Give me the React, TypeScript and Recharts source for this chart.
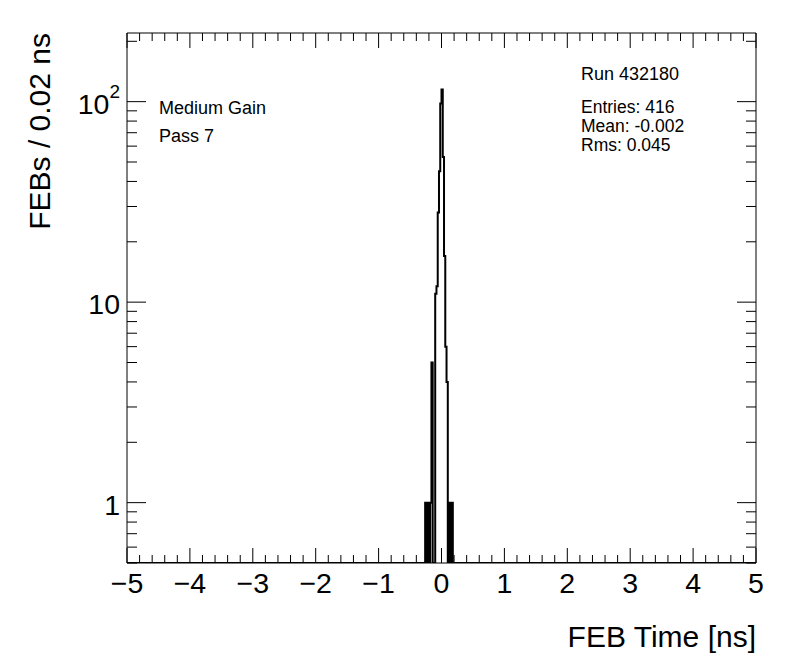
import React from "react";
import { LineChart, Line, XAxis, YAxis, Customized } from "recharts";

// FEB timing histogram, 0.02 ns bins (lower edges)
const BIN_EDGES = [
  -0.28, -0.26, -0.24, -0.22, -0.2, -0.18, -0.16, -0.14, -0.12, -0.1, -0.08, -0.06, -0.04,
  -0.02, 0.0, 0.02, 0.04, 0.06, 0.08, 0.1, 0.12, 0.14, 0.16, 0.18, 0.2,
];
const COUNTS = [0, 1, 0, 1, 0, 1, 5, 0, 0, 11, 12, 28, 45, 98, 115, 53, 17, 6, 4, 0, 1, 0, 1, 0, 0];
const BIN_WIDTH = 0.02;

const X_MAJOR = [-5, -4, -3, -2, -1, 0, 1, 2, 3, 4, 5];
const Y_MAJOR = [1, 10, 100];
const Y_DOMAIN: [number, number] = [0.5, 220];

const INFO_LEFT = ["Medium Gain", "Pass 7"];
const RUN_LABEL = "Run 432180";
const STATS = ["Entries: 416", "Mean: -0.002", "Rms: 0.045"];

const FONT = "'Liberation Sans', Arial, Helvetica, sans-serif";
const W = 796;
const H = 672;
const LEFT = 127;
const RIGHT = 756;
const TOP = 33;
const BOTTOM = 563;

// empty bins sit on the frame bottom like ROOT does
const data = [
  { x: -5, y: Y_DOMAIN[0] },
  ...BIN_EDGES.map((e, i) => ({ x: e, y: COUNTS[i] > 0 ? COUNTS[i] : Y_DOMAIN[0] })),
  { x: BIN_EDGES[BIN_EDGES.length - 1] + BIN_WIDTH, y: Y_DOMAIN[0] },
  { x: 5, y: Y_DOMAIN[0] },
];

const xTicks: number[] = [];
X_MAJOR.forEach((m, i) => {
  xTicks.push(m);
  if (i < X_MAJOR.length - 1) {
    for (let k = 1; k < 5; k++) xTicks.push(Number((m + k * 0.2).toFixed(1)));
  }
});

const yTicks: number[] = [];
[0.1, 1, 10, 100].forEach((d) => {
  for (let m = 1; m < 10; m++) {
    const v = Number((m * d).toPrecision(3));
    if (v >= Y_DOMAIN[0] && v <= Y_DOMAIN[1]) yTicks.push(v);
  }
});

const isInt = (v: number) => Math.abs(v - Math.round(v)) < 1e-6;
const fmt = (v: number) => (v < 0 ? "\u2212" + Math.abs(v) : String(v));

function BottomTick(props: any) {
  const { x, y, payload } = props;
  const major = isInt(payload.value);
  return (
    <g>
      <line x1={x} x2={x} y1={y} y2={y - (major ? 15 : 8)} stroke="#000" strokeWidth={1} />
      {major && (
        <text x={x} y={y + 30} textAnchor="middle" fontSize={28.5} fontFamily={FONT} fill="#000">
          {fmt(payload.value)}
        </text>
      )}
    </g>
  );
}

function TopTick(props: any) {
  const { x, y, payload } = props;
  const major = isInt(payload.value);
  return <line x1={x} x2={x} y1={y} y2={y + (major ? 15 : 8)} stroke="#000" strokeWidth={1} />;
}

function LeftTick(props: any) {
  const { x, y, payload } = props;
  const v = payload.value;
  const major = Y_MAJOR.includes(v);
  return (
    <g>
      <line x1={x} x2={x + (major ? 19 : 10)} y1={y} y2={y} stroke="#000" strokeWidth={1} />
      {major && (
        <text x={x - 7} y={y + 12} textAnchor="end" fontSize={28.5} fontFamily={FONT} fill="#000">
          {v === 100 ? (
            <>
              10
              <tspan dy={-16} fontSize={19}>
                2
              </tspan>
            </>
          ) : (
            String(v)
          )}
        </text>
      )}
    </g>
  );
}

function RightTick(props: any) {
  const { x, y, payload } = props;
  const major = Y_MAJOR.includes(payload.value);
  return <line x1={x} x2={x - (major ? 19 : 10)} y1={y} y2={y} stroke="#000" strokeWidth={1} />;
}

function Labels() {
  return (
    <g fontFamily={FONT} fill="#000">
      <text x={RIGHT} y={647} textAnchor="end" fontSize={30}>
        FEB Time [ns]
      </text>
      <text transform="rotate(-90)" x={-33} y={50} textAnchor="end" fontSize={30}>
        FEBs / 0.02 ns
      </text>
      {INFO_LEFT.map((t, i) => (
        <text key={t} x={159} y={114 + i * 28} fontSize={18}>
          {t}
        </text>
      ))}
      <text x={581} y={80} fontSize={18}>
        {RUN_LABEL}
      </text>
      {STATS.map((t, i) => (
        <text key={t} x={581} y={113 + i * 19} fontSize={17.5}>
          {t}
        </text>
      ))}
    </g>
  );
}

export default function App() {
  return (
    <div style={{ position: "absolute", left: 0, top: 0, width: W, height: H, background: "#fff" }}>
      <LineChart
        width={W}
        height={H}
        data={data}
        margin={{ top: TOP - 30, right: W - RIGHT - 40, bottom: H - BOTTOM - 30, left: LEFT - 60 }}
      >
        <XAxis
          dataKey="x"
          type="number"
          domain={[-5, 5]}
          ticks={xTicks}
          interval={0}
          tickSize={0}
          tickMargin={0}
          height={30}
          axisLine={{ stroke: "#000", strokeWidth: 1 }}
          tickLine={false}
          tick={<BottomTick />}
          allowDataOverflow
        />
        <XAxis
          xAxisId="top"
          orientation="top"
          dataKey="x"
          type="number"
          domain={[-5, 5]}
          ticks={xTicks}
          interval={0}
          tickSize={0}
          tickMargin={0}
          height={30}
          axisLine={{ stroke: "#000", strokeWidth: 1 }}
          tickLine={false}
          tick={<TopTick />}
          allowDataOverflow
        />
        <YAxis
          scale="log"
          domain={Y_DOMAIN}
          ticks={yTicks}
          interval={0}
          tickSize={0}
          tickMargin={0}
          width={60}
          axisLine={{ stroke: "#000", strokeWidth: 1 }}
          tickLine={false}
          tick={<LeftTick />}
          allowDataOverflow
        />
        <YAxis
          yAxisId="right"
          orientation="right"
          scale="log"
          domain={Y_DOMAIN}
          ticks={yTicks}
          interval={0}
          tickSize={0}
          tickMargin={0}
          width={40}
          axisLine={{ stroke: "#000", strokeWidth: 1 }}
          tickLine={false}
          tick={<RightTick />}
          allowDataOverflow
        />
        <Line
          type="stepAfter"
          dataKey="y"
          stroke="#000"
          strokeWidth={2}
          dot={false}
          activeDot={false}
          isAnimationActive={false}
        />
        <Customized component={<Labels />} />
      </LineChart>
    </div>
  );
}
